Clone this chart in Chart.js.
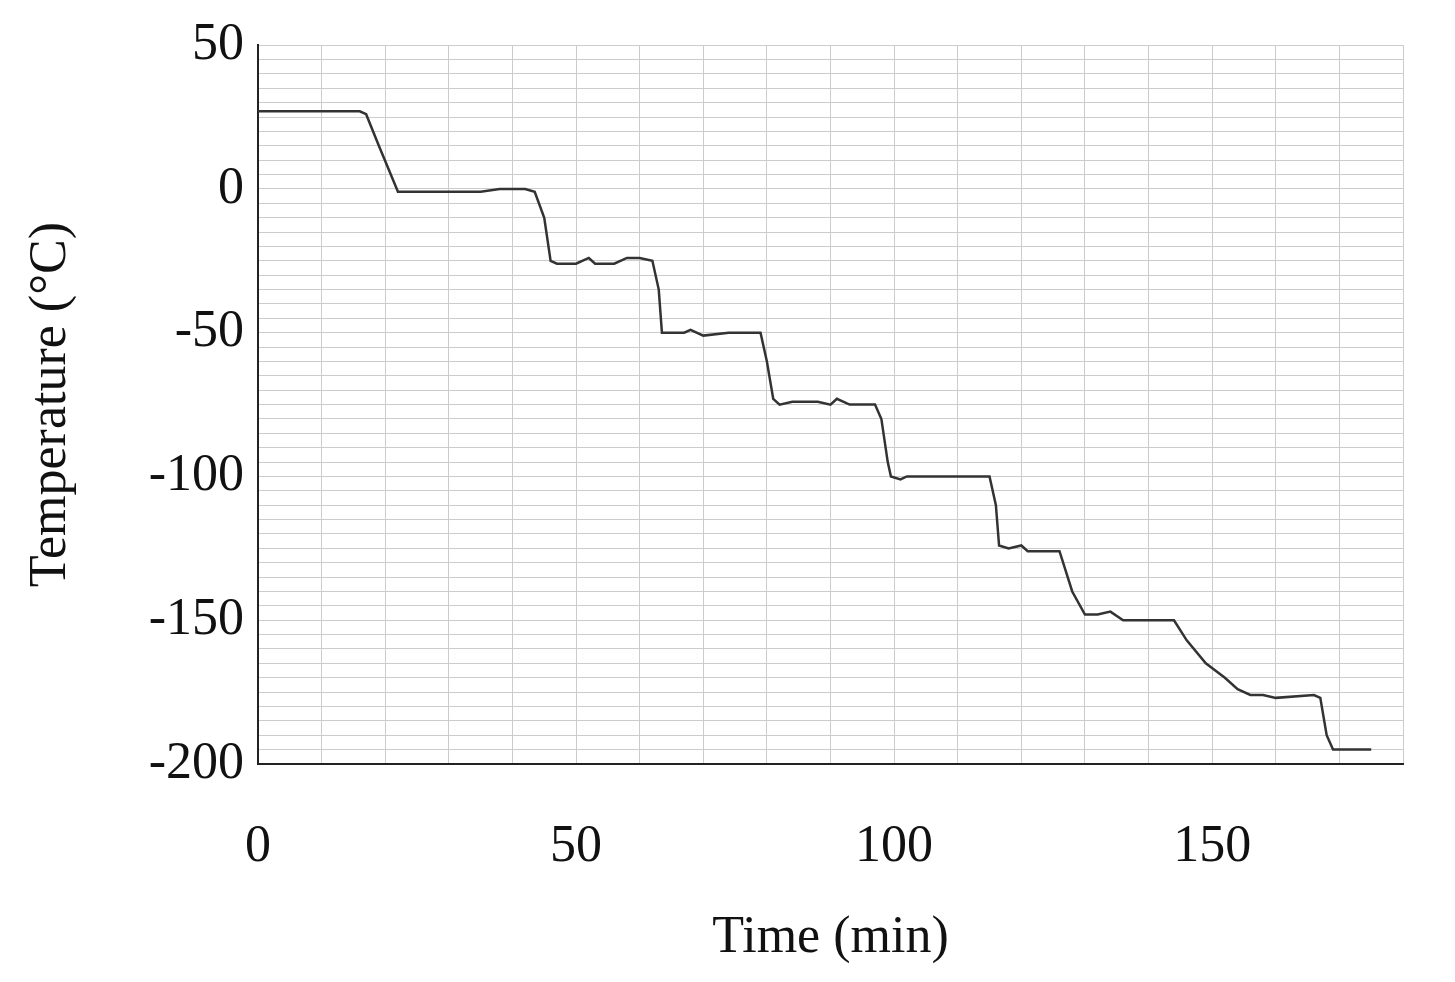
<!DOCTYPE html>
<html><head><meta charset="utf-8">
<script src="https://cdn.jsdelivr.net/npm/chart.js@4/dist/chart.umd.min.js"></script>
<style>html,body{margin:0;background:#fff}#w{width:1455px;height:982px}</style>
</head><body><div id="w"><canvas id="c"></canvas></div>
<script>
const timeMin = [0,16,17,19,22,35,38,42,43.5,45,46,47,50,52,53,56,58,60,62,63,63.5,65,67,68,70,74,79,80,81,82,84,88,90,91,93,97,98,99,99.5,101,102,115,116,116.5,118,120,121,126,128,130,132,134,136,144,146,149,152,154,156,158,160,166,167,168,169,175];
const tempC = [27,27,26,15,-1,-1,0,0,-1,-10,-25,-26,-26,-24,-26,-26,-24,-24,-25,-35,-50,-50,-50,-49,-51,-50,-50,-60,-73,-75,-74,-74,-75,-73,-75,-75,-80,-95,-100,-101,-100,-100,-110,-124,-125,-124,-126,-126,-140,-148,-148,-147,-150,-150,-157,-165,-170,-174,-176,-176,-177,-176,-177,-190,-195,-195];
const xLabels = [0,50,100,150];
const yLabels = [50,0,-50,-100,-150,-200];
const font = {family:'"Liberation Serif","Times New Roman",serif', size:52};
new Chart(document.getElementById('c'), {
  type:'line',
  data:{datasets:[{data:timeMin.map((t,i)=>({x:t,y:tempC[i]})),borderColor:'#333',borderWidth:2.5,pointRadius:0,tension:0}]},
  options:{responsive:true,maintainAspectRatio:false,animation:false,
    layout:{padding:{top:3,right:15,left:0,bottom:0}},
    plugins:{legend:{display:false},tooltip:{enabled:false}},
    scales:{
      x:{type:'linear',min:0,max:180,afterFit:s=>{s.height=218;},
        ticks:{stepSize:10,autoSkip:false,maxRotation:0,color:'#111',font,padding:52,callback:v=>xLabels.includes(v)?String(v):''},
        grid:{color:'#ccc',lineWidth:1,drawTicks:false},border:{color:'#222',width:2},
        title:{display:true,text:'Time (min)',color:'#111',font,padding:{top:0,bottom:12}}},
      y:{min:-200,max:50,afterFit:s=>{s.width=258;},
        ticks:{stepSize:5,autoSkip:false,color:'#111',font,padding:14,callback:v=>yLabels.includes(v)?String(v):''},
        grid:{color:'#ccc',lineWidth:1,drawTicks:false},border:{color:'#222',width:2},
        title:{display:true,text:'Temperature (°C)',color:'#111',font,padding:{top:20,bottom:8}}}
    }}
});
</script></body></html>
